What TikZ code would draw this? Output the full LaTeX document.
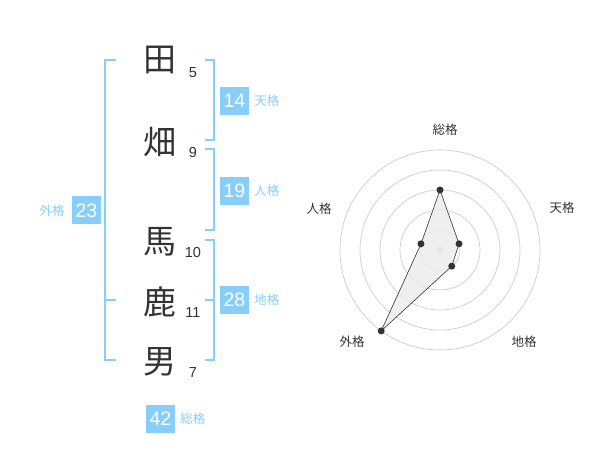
\documentclass[tikz,border=0pt]{standalone}
\usepackage{fontspec}
\setmainfont{Liberation Sans}
\newfontfamily\jp{Noto Sans CJK JP}
\usetikzlibrary{positioning}
\definecolor{kakublue}{RGB}{135,206,250}
\definecolor{ink}{RGB}{51,51,51}
\definecolor{ring}{RGB}{204,204,204}
\tikzset{
    kanji/.style={inner sep=0pt, text=ink, font=\jp\fontsize{33}{33}\selectfont},
    stroke/.style={inner sep=0pt, text=ink, font=\fontsize{14.5}{14.5}\selectfont},
    kakubox/.style={fill=kakublue, text=white, minimum width=29pt, minimum height=28pt, inner sep=0pt, font=\fontsize{19.5}{19.5}\selectfont},
    kakuname/.style={inner sep=0pt, text=kakublue, font=\jp\fontsize{12.5}{12.5}\selectfont},
    bracket/.style={draw=kakublue, line width=2pt},
    axisname/.style={inner sep=0pt, text=ink, font=\jp\fontsize{12.5}{12.5}\selectfont},
    dot/.style={circle, fill=ink, inner sep=0pt, minimum size=7pt}
}
\begin{document}
\begin{tikzpicture}[x=1pt, y=-1pt]
    \useasboundingbox (0,0) rectangle (600,470);
    % name
    \node[kanji] (c1) at (160,60) {田};
    \node[kanji] (c2) at (160,142) {畑};
    \node[kanji] (c3) at (160,242) {馬};
    \node[kanji] (c4) at (160,302) {鹿};
    \node[kanji] (c5) at (160,362) {男};
    \node[stroke] (s1) at (193,73) {5};
    \node[stroke] (s2) at (193,153) {9};
    \node[stroke] (s3) at (193,253) {10};
    \node[stroke] (s4) at (193,313) {11};
    \node[stroke] (s5) at (193,373) {7};
    % brackets
    \draw[bracket] (116,60) -- (105,60) -- (105,360) -- (116,360);
    \draw[bracket] (105,300) -- (116,300);
    \draw[bracket] (205,60) -- (214,60) -- (214,140) -- (205,140);
    \draw[bracket] (205,149) -- (214,149) -- (214,230) -- (205,230);
    \draw[bracket] (205,240) -- (214,240) -- (214,360) -- (205,360);
    \draw[bracket] (205,300) -- (214,300);
    % kaku
    \node[kakubox] (ten) at (234.5,101) {14};
    \node[kakuname, right=5pt of ten] (tenname) {天格};
    \node[kakubox] (jin) at (234.5,191) {19};
    \node[kakuname, right=5pt of jin] (jinname) {人格};
    \node[kakubox] (chi) at (234.5,300) {28};
    \node[kakuname, right=5pt of chi] (chiname) {地格};
    \node[kakubox] (gai) at (86.5,210.5) {23};
    \node[kakuname, left=7pt of gai] (gainame) {外格};
    \node[kakubox] (sou) at (160.5,419) {42};
    \node[kakuname, right=5pt of sou] (souname) {総格};
    % radar
    \begin{scope}[shift={(440,250)}, y=1pt]
        \foreach \r in {20,40,...,100}
            \draw[ring, line width=0.7pt] (0,0) circle[radius=\r];
        \fill[ring] (0,0) circle[radius=3.5];
        \coordinate (p1) at (90:60);
        \coordinate (p2) at (18:20);
        \coordinate (p3) at (-54:20);
        \coordinate (p4) at (-126:100);
        \coordinate (p5) at (162:20);
        \filldraw[fill=black!8, fill opacity=0.8, draw=ink, line width=0.6pt]
            (p1) -- (p2) -- (p3) -- (p4) -- (p5) -- cycle;
        \foreach \p in {p1,p2,p3,p4,p5}
            \node[dot] at (\p) {};
        \node[axisname] (a1) at (5,120) {総格};
        \node[axisname] (a2) at (122,42) {天格};
        \node[axisname] (a3) at (84,-92) {地格};
        \node[axisname] (a4) at (-88,-92) {外格};
        \node[axisname] (a5) at (-121,41) {人格};
    \end{scope}
\end{tikzpicture}
\end{document}
